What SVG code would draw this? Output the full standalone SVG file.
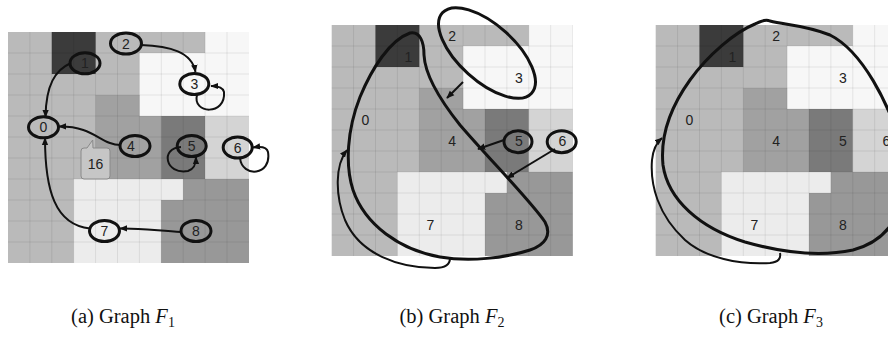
<svg xmlns="http://www.w3.org/2000/svg" width="888" height="338" viewBox="0 0 888 338">
<style>
.lbl{font-family:"Liberation Sans",Arial,sans-serif;font-size:14px;fill:#222;text-anchor:middle}
.nd{fill:none;stroke:#111;stroke-width:3}
.ed{fill:none;stroke:#111;stroke-width:2}
.sh{fill:none;stroke:#111;stroke-width:3}
.cap{font-family:"Liberation Serif","Times New Roman",serif;font-size:20.5px;fill:#111;text-anchor:middle}
</style>
<defs>
<marker id="ah" viewBox="0 0 10 10" refX="9" refY="5" markerWidth="8" markerHeight="8" markerUnits="userSpaceOnUse" orient="auto">
<path d="M0,1 L10,5 L0,9 z" fill="#111"/>
</marker>
<g id="grid">
<rect x="0" y="0" width="241" height="231" fill="#bababa"/>
<rect x="43.8" y="0" width="43.8" height="42" fill="#3b3b3b"/>
<rect x="197.1" y="0" width="43.9" height="21" fill="#f7f7f7"/>
<rect x="131.4" y="21" width="109.6" height="63" fill="#f7f7f7"/>
<rect x="87.6" y="63" width="43.8" height="21" fill="#a1a1a1"/>
<rect x="87.6" y="84" width="65.7" height="63" fill="#a1a1a1"/>
<rect x="153.3" y="84" width="43.8" height="63" fill="#7a7a7a"/>
<rect x="197.1" y="84" width="43.9" height="63" fill="#d4d4d4"/>
<rect x="65.7" y="147" width="109.5" height="21" fill="#ececec"/>
<rect x="65.7" y="168" width="87.6" height="63" fill="#ececec"/>
<rect x="175.2" y="147" width="65.8" height="21" fill="#989898"/>
<rect x="153.3" y="168" width="87.7" height="63" fill="#989898"/>
<path d="M21.9 0V231M43.8 0V231M65.7 0V231M87.6 0V231M109.5 0V231M131.4 0V231M153.3 0V231M175.2 0V231M197.1 0V231M219 0V231M0 21H241M0 42H241M0 63H241M0 84H241M0 105H241M0 126H241M0 147H241M0 168H241M0 189H241M0 210H241" stroke="#000" stroke-opacity="0.08" stroke-width="1" fill="none"/>
</g>
</defs>
<rect width="888" height="338" fill="#fff"/>

<!-- Panel (a) -->
<use href="#grid" transform="translate(8,32)"/>
<g id="a-edges">
<path class="ed" d="M71 63 C55 70,46 85,45.5 117" marker-end="url(#ah)"/>
<path class="ed" d="M141 45 C170 46,192 52,195.5 72" marker-end="url(#ah)"/>
<path class="ed" d="M197 95 C192 114,226 116,224 92 C223 87,218 86,211 86" marker-end="url(#ah)"/>
<path class="ed" d="M121 145 C100 145,95 126,59 126.5" marker-end="url(#ah)"/>
<path class="ed" d="M181 147 C160 148,165 175,188 171 C194 169,196 165,196 157" marker-end="url(#ah)"/>
<path class="ed" d="M240 158 C242 178,272 176,268 152 C267 147,262 146,253 147.5" marker-end="url(#ah)"/>
<path class="ed" d="M90 228.5 C55 225,45 190,45 138" marker-end="url(#ah)"/>
<path class="ed" d="M181 232 C160 231,140 228,120 228.5" marker-end="url(#ah)"/>
<path d="M84 148 L87 148 L92.7 140 L93 148 L107 148 Q110 148 110 151 L110 176 Q110 179 107 179 L84 179 Q81 179 81 176 L81 151 Q81 148 84 148 Z" fill="#c6c6c6" stroke="#8a8a8a" stroke-width="1"/>
<text class="lbl" x="95.5" y="168.5">16</text>
</g>
<g id="a-n0"><ellipse class="nd" cx="43.5" cy="127.3" rx="15" ry="10.5"/><text class="lbl" x="43.5" y="132.3">0</text></g>
<g id="a-n1"><ellipse class="nd" cx="85" cy="63.3" rx="15" ry="10.5"/><text class="lbl" x="85" y="68.3">1</text></g>
<g id="a-n2"><ellipse class="nd" cx="126" cy="43.5" rx="15.5" ry="10.5"/><text class="lbl" x="126" y="48.5">2</text></g>
<g id="a-n3"><ellipse class="nd" cx="194.3" cy="84" rx="14.5" ry="10.5"/><text class="lbl" x="194.3" y="89">3</text></g>
<g id="a-n4"><ellipse class="nd" cx="135" cy="146" rx="15" ry="10.5"/><text class="lbl" x="131" y="151">4</text></g>
<g id="a-n5"><ellipse class="nd" cx="191.7" cy="146" rx="14.5" ry="10.5"/><text class="lbl" x="191.7" y="151">5</text></g>
<g id="a-n6"><ellipse class="nd" cx="237.7" cy="147.5" rx="14.5" ry="10.5"/><text class="lbl" x="237.7" y="152.5">6</text></g>
<g id="a-n7"><ellipse class="nd" cx="104.5" cy="231" rx="15" ry="10.5"/><text class="lbl" x="104.5" y="236">7</text></g>
<g id="a-n8"><ellipse class="nd" cx="196" cy="231" rx="15" ry="10.5"/><text class="lbl" x="196" y="236">8</text></g>

<!-- Panel (b) -->
<use href="#grid" transform="translate(331.7,25)"/>
<g id="b-labels">
<g id="b-n0"><text class="lbl" x="365.5" y="124.5">0</text></g>
<g id="b-n1"><text class="lbl" x="408.3" y="61.5">1</text></g>
<g id="b-n2"><text class="lbl" x="452.2" y="40.5">2</text></g>
<g id="b-n3"><text class="lbl" x="518.8" y="82.5">3</text></g>
<g id="b-n4"><text class="lbl" x="452.2" y="145.5">4</text></g>
<g id="b-n5"><ellipse class="nd" cx="518" cy="141.7" rx="14" ry="11"/><text class="lbl" x="518.8" y="145.5">5</text></g>
<g id="b-n6"><ellipse class="nd" cx="561.7" cy="141.7" rx="14.5" ry="11"/><text class="lbl" x="562.4" y="145.5">6</text></g>
<g id="b-n7"><text class="lbl" x="430.3" y="229.5">7</text></g>
<g id="b-n8"><text class="lbl" x="518.8" y="229.5">8</text></g>
</g>
<g id="b-sets">
<ellipse class="sh" cx="487" cy="53" rx="60" ry="28" transform="rotate(42 487 53)"/>
<path class="sh" d="M410 33 C420 31,424 42,424 55 C425 75,440 100,460 125 C490 160,530 200,545 222 C552 235,545 245,530 250 C505 258,470 262,440 257 C400 250,365 225,353 190 C345 165,347 130,360 97 C372 68,390 40,410 33 Z"/>
</g>
<g id="b-edges">
<path class="ed" d="M463 82 L447 98" marker-end="url(#ah)"/>
<path class="ed" d="M504 140 L478 149" marker-end="url(#ah)"/>
<path class="ed" d="M555 149 L507 178" marker-end="url(#ah)"/>
<path class="ed" d="M450 258 C450 264,445 268,435 268 C400 268,360 255,345 220 C335 195,335 165,347 150" marker-end="url(#ah)"/>
</g>

<!-- Panel (c) -->
<use href="#grid" transform="translate(655.7,25)"/>
<g id="c-labels">
<g id="c-n0"><text class="lbl" x="689.5" y="124.5">0</text></g>
<g id="c-n1"><text class="lbl" x="732.3" y="61.5">1</text></g>
<g id="c-n2"><text class="lbl" x="776.2" y="40.5">2</text></g>
<g id="c-n3"><text class="lbl" x="842.8" y="82.5">3</text></g>
<g id="c-n4"><text class="lbl" x="776.2" y="145.5">4</text></g>
<g id="c-n5"><text class="lbl" x="842.8" y="145.5">5</text></g>
<g id="c-n6"><text class="lbl" x="886.4" y="145.5">6</text></g>
<g id="c-n7"><text class="lbl" x="754.3" y="229.5">7</text></g>
<g id="c-n8"><text class="lbl" x="842.8" y="229.5">8</text></g>
</g>
<g id="c-sets">
<path class="sh" d="M770 21 C785 25,805 25,830 35 C860 50,890 100,905 160 C908 210,890 240,853 250 C820 257,780 252,745 242 C700 228,668 200,663 165 C660 135,672 105,690 80 C708 55,735 32,755 24 C762 21,766 19,770 21 Z"/>
</g>
<g id="c-edges">
<path class="ed" d="M780 253 C781 258,779 262,770 263 C740 265,705 258,685 240 C658 215,650 185,652 160 C653 150,656 143,662 138" marker-end="url(#ah)"/>
</g>

<!-- Captions -->
<text class="cap" x="123" y="323">(a) Graph <tspan font-style="italic">F</tspan><tspan font-size="14" dy="4">1</tspan></text>
<text class="cap" x="452" y="323">(b) Graph <tspan font-style="italic">F</tspan><tspan font-size="14" dy="4">2</tspan></text>
<text class="cap" x="771" y="323">(c) Graph <tspan font-style="italic">F</tspan><tspan font-size="14" dy="4">3</tspan></text>
</svg>
